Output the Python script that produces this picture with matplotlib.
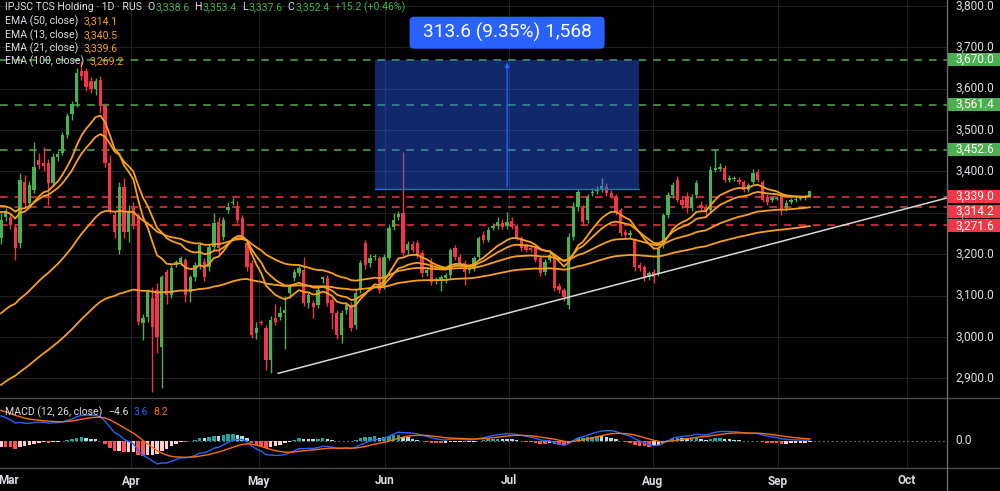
import matplotlib
matplotlib.use("Agg")
import matplotlib.pyplot as plt
import matplotlib.transforms as mtransforms
from matplotlib.lines import Line2D
from matplotlib.patches import Rectangle, FancyBboxPatch

# daily candles (first bar ~ 29 Feb, last bar ~ 10 Sep)
opens = [3239, 3290, 3290, 3266, 3227, 3375, 3324, 3356, 3428, 3420,
         3421, 3373, 3436, 3445, 3489, 3538, 3567, 3642, 3642, 3618,
         3598, 3622, 3557, 3421, 3295, 3210, 3363, 3254, 3312, 3295,
         3033, 3048, 3094, 3113, 2975, 3157, 3101, 3179, 3181, 3186,
         3108, 3145, 3174, 3181, 3169, 3218, 3278, 3242, 3307, 3324,
         3315, 3288, 3227, 3179, 3009, 3036, 3021, 2944, 3045, 3048,
         3058, 3106, 3142, 3154, 3162, 3082, 3082, 3077, 3140, 3142,
         3089, 3058, 3004, 3065, 3077, 3028, 3113, 3227, 3179, 3192,
         3191, 3125, 3191, 3266, 3290, 3300, 3210, 3225, 3227, 3203,
         3154, 3181, 3135, 3137, 3142, 3150, 3215, 3193, 3179, 3162,
         3167, 3193, 3247, 3235, 3264, 3268, 3276, 3268, 3280, 3268,
         3239, 3222, 3215, 3215, 3191, 3157, 3186, 3191, 3123, 3113,
         3077, 3242, 3315, 3312, 3283, 3348, 3353, 3356, 3363, 3348,
         3339, 3307, 3254, 3247, 3235, 3174, 3169, 3145, 3157, 3154,
         3222, 3295, 3344, 3380, 3331, 3339, 3312, 3344, 3319, 3315,
         3307, 3404, 3407, 3409, 3380, 3382, 3380, 3375, 3356, 3375,
         3399, 3375, 3339, 3331, 3334, 3344, 3312, 3327, 3331, 3334,
         3336, 3338.6]
highs = [3300, 3312, 3296, 3272, 3395, 3392, 3378, 3470, 3445, 3460,
         3430, 3445, 3450, 3495, 3540, 3570, 3650, 3668, 3650, 3628,
         3625, 3630, 3565, 3440, 3305, 3375, 3385, 3320, 3325, 3300,
         3055, 3115, 3120, 3130, 3150, 3165, 3175, 3185, 3195, 3190,
         3150, 3180, 3230, 3190, 3225, 3300, 3290, 3290, 3325, 3335,
         3328, 3295, 3235, 3185, 3035, 3040, 3030, 3050, 3080, 3075,
         3100, 3128, 3165, 3175, 3193, 3110, 3090, 3120, 3148, 3150,
         3095, 3065, 3065, 3085, 3085, 3115, 3185, 3235, 3200, 3200,
         3195, 3200, 3272, 3300, 3305, 3448, 3232, 3232, 3235, 3210,
         3168, 3190, 3145, 3150, 3155, 3215, 3222, 3200, 3185, 3172,
         3195, 3245, 3255, 3265, 3275, 3290, 3285, 3302, 3290, 3272,
         3245, 3228, 3220, 3220, 3196, 3188, 3205, 3198, 3130, 3118,
         3250, 3325, 3358, 3320, 3345, 3360, 3365, 3385, 3372, 3355,
         3345, 3312, 3262, 3258, 3240, 3180, 3175, 3160, 3165, 3220,
         3300, 3350, 3375, 3390, 3340, 3350, 3345, 3380, 3328, 3322,
         3412, 3453, 3420, 3415, 3392, 3390, 3386, 3380, 3372, 3405,
         3405, 3380, 3345, 3340, 3340, 3350, 3330, 3335, 3338, 3340,
         3342, 3353.4]
lows = [3225, 3280, 3262, 3186, 3215, 3315, 3318, 3348, 3405, 3400,
        3319, 3362, 3425, 3440, 3480, 3525, 3555, 3620, 3595, 3590,
        3585, 3540, 3410, 3300, 3240, 3200, 3240, 3230, 3260, 3030,
        2992, 3035, 2866, 2960, 2876, 3080, 3095, 3170, 3175, 3085,
        3085, 3135, 3165, 3135, 3160, 3210, 3195, 3235, 3300, 3318,
        3275, 3240, 3160, 2998, 2995, 3028, 2919, 2912, 3030, 3040,
        2970, 3095, 3135, 3148, 3075, 3070, 3045, 3070, 3130, 3075,
        3020, 2995, 2985, 3055, 3015, 3020, 3105, 3165, 3170, 3185,
        3105, 3115, 3185, 3258, 3282, 3195, 3200, 3205, 3190, 3145,
        3148, 3125, 3128, 3110, 3130, 3140, 3185, 3170, 3125, 3155,
        3160, 3188, 3228, 3230, 3258, 3262, 3260, 3262, 3260, 3235,
        3208, 3205, 3205, 3180, 3148, 3150, 3180, 3110, 3105, 3088,
        3067, 3235, 3305, 3270, 3275, 3340, 3345, 3350, 3340, 3335,
        3295, 3245, 3240, 3240, 3160, 3160, 3135, 3138, 3130, 3148,
        3215, 3288, 3335, 3325, 3312, 3300, 3305, 3335, 3305, 3290,
        3300, 3398, 3400, 3375, 3375, 3378, 3370, 3350, 3350, 3370,
        3375, 3325, 3320, 3326, 3330, 3295, 3305, 3322, 3326, 3330,
        3332, 3337.6]
closes = [3283, 3305, 3271, 3215, 3380, 3324, 3368, 3411, 3416, 3412,
          3373, 3436, 3441, 3489, 3533, 3562, 3639, 3630, 3603, 3598,
          3618, 3557, 3421, 3307, 3254, 3363, 3254, 3302, 3271, 3036,
          3045, 3108, 3024, 2999, 3145, 3101, 3167, 3181, 3191, 3101,
          3145, 3174, 3222, 3145, 3218, 3276, 3215, 3283, 3315, 3326,
          3283, 3247, 3169, 3004, 3021, 3034, 2944, 3041, 3036, 3058,
          3065, 3121, 3157, 3167, 3082, 3101, 3072, 3113, 3144, 3082,
          3058, 3004, 3058, 3077, 3021, 3106, 3179, 3174, 3191, 3195,
          3113, 3193, 3264, 3283, 3298, 3203, 3225, 3210, 3198, 3154,
          3162, 3133, 3140, 3145, 3150, 3210, 3193, 3179, 3157, 3167,
          3191, 3239, 3235, 3259, 3268, 3278, 3266, 3278, 3266, 3242,
          3215, 3210, 3210, 3186, 3154, 3181, 3198, 3118, 3113, 3096,
          3242, 3315, 3351, 3278, 3339, 3351, 3358, 3365, 3348, 3341,
          3302, 3252, 3247, 3250, 3169, 3167, 3145, 3154, 3145, 3213,
          3295, 3344, 3368, 3331, 3319, 3312, 3339, 3373, 3312, 3307,
          3404, 3409, 3410, 3380, 3385, 3384, 3375, 3356, 3368, 3397,
          3380, 3331, 3327, 3336, 3336, 3307, 3324, 3331, 3334, 3336,
          3337.2, 3352.4]

month_labels = ["Mar", "Apr", "May", "Jun", "Jul", "Aug", "Sep", "Oct"]
month_pos = [1.7, 27.5, 54.5, 81.2, 107.4, 137.8, 164.3, 191.5]  # bar index
price_ticks = [2900, 3000, 3100, 3200, 3300, 3400, 3500, 3600, 3700, 3800]

resistance = [3670.0, 3561.4, 3452.6]
support = [3339.0, 3314.2, 3271.6]

ema_periods = [50, 13, 21, 100]
ema_seeds = [3048, 3305, 3320, 2876]          # where each EMA enters at the left edge
ema_legend = ["3,314.1", "3,340.5", "3,339.6", "3,269.2"]

macd_seeds = (3300, 3190, 128)                # EMA12, EMA26, signal at the left edge
macd_legend = ["\u22124.6", "3.6", "8.2"]

range_lo, range_hi = 3356.4, 3670.0
range_bars = (79.1, 134.9)
range_text = "313.6 (9.35%) 1,568"

trend_x = [58.6, 150.0]
trend_y = [2912, 3186]

W, H = 1000, 491
BG = "#000000"
UP = "#4caf50"
DOWN = "#f23645"
TXT = "#dcdee4"
GRID = "#1e1e1e"
EMA_COL = "#f9a01b"
BLUE = "#2962ff"
SIGNAL = "#ff6d00"

plt.rcParams["font.family"] = ["Roboto", "DejaVu Sans"]


def ema(values, period, seed):
    k = 2.0 / (period + 1)
    out, e = [], seed
    for v in values:
        e += k * (v - e)
        out.append(e)
    return out


fig = plt.figure(figsize=(W / 100, H / 100), dpi=100, facecolor=BG)
ax = fig.add_axes([0, 1 - 398 / H, 947 / W, 398 / H])
mx = fig.add_axes([0, 23 / H, 947 / W, 70 / H], sharex=ax)
for a in (ax, mx):
    a.set_facecolor(BG)
    for s in a.spines.values():
        s.set_visible(False)
    a.tick_params(left=False, bottom=False, labelleft=False, labelbottom=False)

n = len(closes)
xs = list(range(n))
ax.set_xlim(-0.21, 200.0)
ax.set_ylim(2852.4, 3814.3)
mx.set_ylim(-108, 172)

for p in price_ticks:
    ax.axhline(p, color=GRID, lw=0.8, zorder=0)
for m in month_pos[1:]:
    ax.axvline(m, color=GRID, lw=0.8, zorder=0)
    mx.axvline(m, color=GRID, lw=0.8, zorder=0)

# key levels
for p in resistance:
    ax.axhline(p, color=UP, lw=1.1, ls=(0, (5, 4.5)), zorder=2)
for p in support:
    ax.axhline(p, color=DOWN, lw=1.1, ls=(0, (5, 4.5)), zorder=2)

# candles
cols = [UP if c >= o else DOWN for o, c in zip(opens, closes)]
ax.vlines(xs, lows, highs, colors=cols, lw=1, zorder=3)
bottoms = [min(o, c) for o, c in zip(opens, closes)]
heights = [max(abs(c - o), 2.0) for o, c in zip(opens, closes)]
ax.bar(xs, heights, bottom=bottoms, width=0.7, color=cols, lw=0, zorder=4)

# moving averages
for per, seed in zip(ema_periods, ema_seeds):
    ax.plot(xs, ema(closes, per, seed), color=EMA_COL, lw=1.3, zorder=5)

# trend line (ray to the right edge)
slope = (trend_y[1] - trend_y[0]) / (trend_x[1] - trend_x[0])
x_end = ax.get_xlim()[1]
ax.plot([trend_x[0], x_end], [trend_y[0], trend_y[0] + slope * (x_end - trend_x[0])],
        color="#d9d9d9", lw=1.1, zorder=5)

# price range measurement
x0, x1 = range_bars
mid = (x0 + x1) / 2
ax.add_patch(Rectangle((x0, range_lo), x1 - x0, range_hi - range_lo,
                       fc=BLUE, alpha=0.42, lw=0, zorder=6))
ax.plot([x0, x1], [range_lo, range_lo], color=BLUE, lw=1, zorder=7)
ax.annotate("", xy=(mid, range_hi), xytext=(mid, range_lo),
            arrowprops=dict(arrowstyle="-|>", color=BLUE, lw=1, mutation_scale=6), zorder=7)
cx, cy = ax.transData.transform((mid, range_hi))
fig.add_artist(FancyBboxPatch((cx - 97.5, cy + 11), 195, 32,
                              boxstyle="round,pad=0,rounding_size=4",
                              transform=mtransforms.IdentityTransform(),
                              fc=BLUE, ec="none", zorder=8))
fig.text(cx / W, (cy + 27) / H, range_text, color="white", fontsize=13.8,
         ha="center", va="center", zorder=9)

# right price scale
tr = mtransforms.blended_transform_factory(fig.transFigure, ax.transData)
for p in price_ticks:
    ax.text(0.955, p, f"{p:,.1f}", transform=tr, color=TXT, fontsize=8.6,
            va="center", ha="left", clip_on=False)

half = 6.5 / (398 / (3814.3 - 2852.4))


def level_label(y_text, value, color):
    r = Rectangle((947 / W, y_text - half), 0.06, 2 * half, transform=tr,
                  fc=color, ec="none", clip_on=False, zorder=9)
    ax.add_patch(r)
    ax.text(0.955, y_text, f"{value:,.1f}", transform=tr, color="white", fontsize=8.6,
            va="center", ha="left", clip_on=False, zorder=10)


for p in resistance:
    level_label(p, p, UP)
y_prev = None
for p in support:
    y_lab = p if y_prev is None else min(p, y_prev - 2 * half - 4)
    level_label(y_lab, p, DOWN)
    y_prev = y_lab

# MACD panel
e12 = ema(closes, 12, macd_seeds[0])
e26 = ema(closes, 26, macd_seeds[1])
macd = [a - b for a, b in zip(e12, e26)]
sig = ema(macd, 9, macd_seeds[2])
hist = [a - b for a, b in zip(macd, sig)]
hcols = []
for i, h in enumerate(hist):
    prev = hist[i - 1] if i else h
    if h >= 0:
        hcols.append("#26a69a" if h > prev else "#b2dfdb")
    else:
        hcols.append("#ff5252" if h < prev else "#ffcdd2")
mx.axhline(0, color="#5d606b", lw=0.8, ls=(0, (2, 2)), zorder=1)
mx.bar(xs, hist, width=0.75, color=hcols, lw=0, zorder=2)
mx.plot(xs, macd, color=BLUE, lw=1, zorder=3)
mx.plot(xs, sig, color=SIGNAL, lw=1, zorder=3)
trm = mtransforms.blended_transform_factory(fig.transFigure, mx.transData)
mx.text(0.955, 0, "0.0", transform=trm, color=TXT, fontsize=8.6, va="center", ha="left", clip_on=False)

# month labels
trx = mtransforms.blended_transform_factory(mx.transData, fig.transFigure)
for lab, m in zip(month_labels, month_pos):
    mx.text(m, 1 - 481 / H, lab, transform=trx, color=TXT, fontsize=8.5, weight="bold",
            ha="center", va="center", clip_on=False)

# panel separators
for y in (398, 468):
    fig.add_artist(Line2D([0, 1], [1 - y / H] * 2, transform=fig.transFigure, color="#4a4a4a", lw=1))
fig.add_artist(Line2D([947 / W] * 2, [0, 1], transform=fig.transFigure, color="#6a6a6a", lw=1))

# legends
renderer = fig.canvas.get_renderer()


def text_runs(x, y, parts, size=7.6):
    for s, col, gap in parts:
        t = fig.text(x / W, 1 - y / H, s, color=col, fontsize=size, va="center", ha="left", zorder=12)
        x += t.get_window_extent(renderer).width + gap


chg = closes[-1] - closes[-2]
text_runs(5, 7.5, [("IPJSC TCS Holding \u00b7 1D \u00b7 RUS", TXT, 5),
                   ("O", TXT, 1), (f"{opens[-1]:,.1f}", UP, 5),
                   ("H", TXT, 1), (f"{highs[-1]:,.1f}", UP, 5),
                   ("L", TXT, 1), (f"{lows[-1]:,.1f}", UP, 5),
                   ("C", TXT, 1), (f"{closes[-1]:,.1f}", UP, 5),
                   (f"{chg:+.1f} ({chg / closes[-2] * 100:+.2f}%)", UP, 0)])
for i, (per, val) in enumerate(zip(ema_periods, ema_legend)):
    text_runs(5, 21.5 + 13.4 * i, [(f"EMA ({per}, close)", TXT, 5), (val, EMA_COL, 0)])
text_runs(5, 412, [("MACD (12, 26, close)", TXT, 6), (macd_legend[0], TXT, 5),
                   (macd_legend[1], BLUE, 5), (macd_legend[2], SIGNAL, 0)])

fig.savefig("out.png", dpi=100, facecolor=BG)
